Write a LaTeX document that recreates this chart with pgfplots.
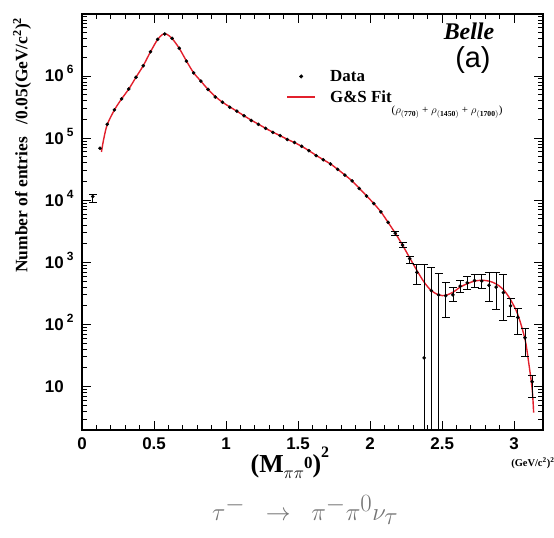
\documentclass[border=0pt]{standalone}
\usepackage{fontspec}
\setmainfont{Liberation Serif}
\setsansfont{Liberation Sans}
\usepackage{pgfplots}
\usepackage{pgfplotstable}
\pgfplotsset{compat=1.18}
\definecolor{fitred}{RGB}{226,32,44}

\pgfplotsset{
  dotlegend/.style={legend image code/.code={\fill[black] (14bp,0bp) circle (1.8bp);}},
  linelegend/.style={legend image code/.code={\draw[fitred, line width=2bp] (0bp,0bp) -- (28bp,0bp);}},
  frame/.style={
    scale only axis,
    width=461bp, height=416bp,
    xmin=0, xmax=3.2,
    ymin=2, ymax=1e7,
    xtick={0,0.5,1,1.5,2,2.5,3},
    ytick={10,100,1000,1e4,1e5,1e6},
  },
}

% binned data, 0.05 (GeV/c^2)^2 bins
\pgfplotstableread{
x y
0.125 6.9e4
0.175 1.68e5
0.225 2.86e5
0.275 4.3e5
0.325 6.2e5
0.375 9.6e5
0.425 1.47e6
0.475 2.47e6
0.525 3.9e6
0.575 4.76e6
0.625 4.05e6
0.675 2.8e6
0.725 1.74e6
0.775 1.13e6
0.825 8.3e5
0.875 6.1e5
0.925 4.6e5
0.975 3.8e5
1.025 3.15e5
1.075 2.72e5
1.125 2.3e5
1.175 1.93e5
1.225 1.67e5
1.275 1.44e5
1.325 1.24e5
1.375 1.1e5
1.425 9.5e4
1.475 8.5e4
1.525 7.4e4
1.575 6.3e4
1.625 5.25e4
1.675 4.5e4
1.725 3.85e4
1.775 3.15e4
1.825 2.55e4
1.875 2.05e4
1.925 1.55e4
1.975 1.17e4
2.025 8.9e3
2.075 6.5e3
2.125 4.4e3
}\datamain

% points with visible error bars (ep = up, em = down)
\pgfplotstableread{
x y ep em
0.075 11500 1100 2400
2.175 2950 200 200
2.225 1900 180 170
2.275 1150 110 195
2.325 690 240 250
2.375 29 900 28.9
2.425 350 470 349.9
2.475 300 360 299.9
2.525 290 178 161
2.575 300 90 63
2.625 415 105 85
2.675 470 130 100
2.725 510 135 120
2.775 500 145 120
2.825 430 250 193
2.875 400 290 225
2.925 325 320 208
2.975 200 65 67
3.025 130 52 61
3.075 61 26 30
3.125 12 3 5.4
}\dataerr

% G&S fit curve
\pgfplotstableread{
x y
0.135 6.0e4
0.15 9.5e4
0.175 1.65e5
0.225 2.85e5
0.275 4.3e5
0.325 6.2e5
0.375 9.6e5
0.425 1.47e6
0.475 2.45e6
0.525 3.9e6
0.56 4.7e6
0.575 4.8e6
0.59 4.7e6
0.625 4.05e6
0.675 2.8e6
0.725 1.75e6
0.775 1.13e6
0.825 8.3e5
0.875 6.1e5
0.925 4.7e5
0.975 3.8e5
1.025 3.2e5
1.075 2.72e5
1.125 2.3e5
1.175 1.95e5
1.225 1.68e5
1.275 1.44e5
1.325 1.25e5
1.375 1.1e5
1.425 9.6e4
1.475 8.5e4
1.525 7.4e4
1.575 6.3e4
1.625 5.3e4
1.675 4.5e4
1.725 3.85e4
1.775 3.15e4
1.825 2.55e4
1.875 2.05e4
1.925 1.56e4
1.975 1.18e4
2.025 8.9e3
2.075 6.5e3
2.125 4.4e3
2.175 2.95e3
2.225 1.9e3
2.275 1.18e3
2.325 740
2.375 480
2.425 350
2.475 300
2.5 292
2.525 295
2.575 330
2.625 400
2.675 455
2.725 500
2.775 515
2.825 500
2.875 450
2.925 365
2.975 250
3.025 145
3.075 58
3.1 25
3.125 9
3.135 3.8
}\datafit

\newcommand{\tk}[1]{\textbf{10}\hspace{3bp}\smash{\raisebox{8bp}{\fontsize{12}{12}\selectfont\textbf{#1}}}}

\begin{document}
\begin{tikzpicture}
\path[use as bounding box] (-82bp,-108bp) rectangle (472bp,430bp);
% content axis: data, fit, labels, legend
\begin{semilogyaxis}[
    frame,
    axis line style={line width=1.6bp},
    major tick length=0bp,
    minor tick length=0bp,
    xticklabels={0,0.5,1,1.5,2,2.5,3},
    yticklabels={\textbf{10}\hspace{3bp}\phantom{\fontsize{12}{12}\selectfont\textbf{0}},\tk{2},\tk{3},\tk{4},\tk{5},\tk{6}},
    xticklabel style={font=\sffamily\bfseries\fontsize{17}{17}\selectfont},
    yticklabel style={font=\sffamily\bfseries\fontsize{17}{17}\selectfont},
    xticklabel shift=4bp,
    yticklabel shift=5bp,
    xlabel={\textbf{(M\raisebox{-6bp}{\fontsize{19}{19}\selectfont$\pi\pi$}\raisebox{4bp}{\fontsize{17}{17}\selectfont 0})\raisebox{15bp}{\fontsize{16}{16}\selectfont 2}}},
    xlabel style={font=\bfseries\fontsize{26}{26}\selectfont, at={(axis description cs:0.451,-0.079)}, anchor=center},
    ylabel={Number of entries\hspace{13bp}/0.05(GeV/c$^{\mathbf{2}}$)$^{\mathbf{2}}$},
    ylabel style={font=\bfseries\fontsize{17.5}{17.5}\selectfont, at={(axis description cs:-0.13,0.685)}, anchor=center},
    legend style={draw=none, fill=none, at={(axis description cs:0.436,0.875)}, anchor=north west,
      font=\bfseries\fontsize{17}{17}\selectfont, row sep=4bp,
      /tikz/every odd column/.append style={column sep=12bp}},
    legend cell align=left,
    after end axis/.code={
      \node[anchor=west, font=\fontsize{11}{11}\selectfont] at (axis description cs:0.664,0.764)
        {($\rho_{\mathbf{(770)}}$ + $\rho_{\mathbf{(1450)}}$ + $\rho_{\mathbf{(1700)}}$)};
      \node[font=\bfseries\itshape\fontsize{24}{24}\selectfont] at (axis description cs:0.8395,0.959) {Belle};
      \node[font=\sffamily\fontsize{29}{29}\selectfont] at (axis description cs:0.848,0.889) {(a)};
      \node[font=\bfseries\fontsize{10.5}{10.5}\selectfont] at (axis description cs:0.978,-0.08) {(GeV/c$^{\mathbf{2}}$)$^{\mathbf{2}}$};
      \node[text=black!55, font=\fontsize{44}{44}\selectfont] at (axis description cs:0.484,-0.192)
        {$\tau^{-}\;\;\rightarrow\;\;\pi^{-}\pi^{0}\nu_{\tau}$};
    },
]
\addplot[fitred, line width=1.4bp, smooth, forget plot] table[x=x, y=y] {\datafit};
\addplot[only marks, mark=*, mark size=1.6bp, black, forget plot] table[x=x, y=y] {\datamain};
\addplot[only marks, mark=*, mark size=1.6bp, black, forget plot,
    error bars/.cd, y dir=both, y explicit,
    error bar style={line width=0.9bp, black},
    error mark options={rotate=90, mark size=4bp, line width=0.9bp}]
    table[x=x, y=y, y error plus=ep, y error minus=em] {\dataerr};
\addlegendimage{dotlegend}
\addlegendentry{Data}
\addlegendimage{linelegend}
\addlegendentry{G\&S Fit}
\end{semilogyaxis}
% tick frame drawn on top, same geometry
\begin{semilogyaxis}[
    frame,
    axis line style={line width=1.6bp},
    major tick length=9bp,
    minor tick length=5bp,
    tick style={black, line width=1bp},
    minor x tick num=4,
    minor ytick={2,3,4,5,6,7,8,9,20,30,40,50,60,70,80,90,200,300,400,500,600,700,800,900,
      2e3,3e3,4e3,5e3,6e3,7e3,8e3,9e3,2e4,3e4,4e4,5e4,6e4,7e4,8e4,9e4,
      2e5,3e5,4e5,5e5,6e5,7e5,8e5,9e5,2e6,3e6,4e6,5e6,6e6,7e6,8e6,9e6},
    xticklabels={,,,,,,},
    yticklabels={,,,,,},
]
\addplot[draw=none, forget plot] coordinates {(1,100) (2,1000)};
\end{semilogyaxis}
\end{tikzpicture}
\end{document}
